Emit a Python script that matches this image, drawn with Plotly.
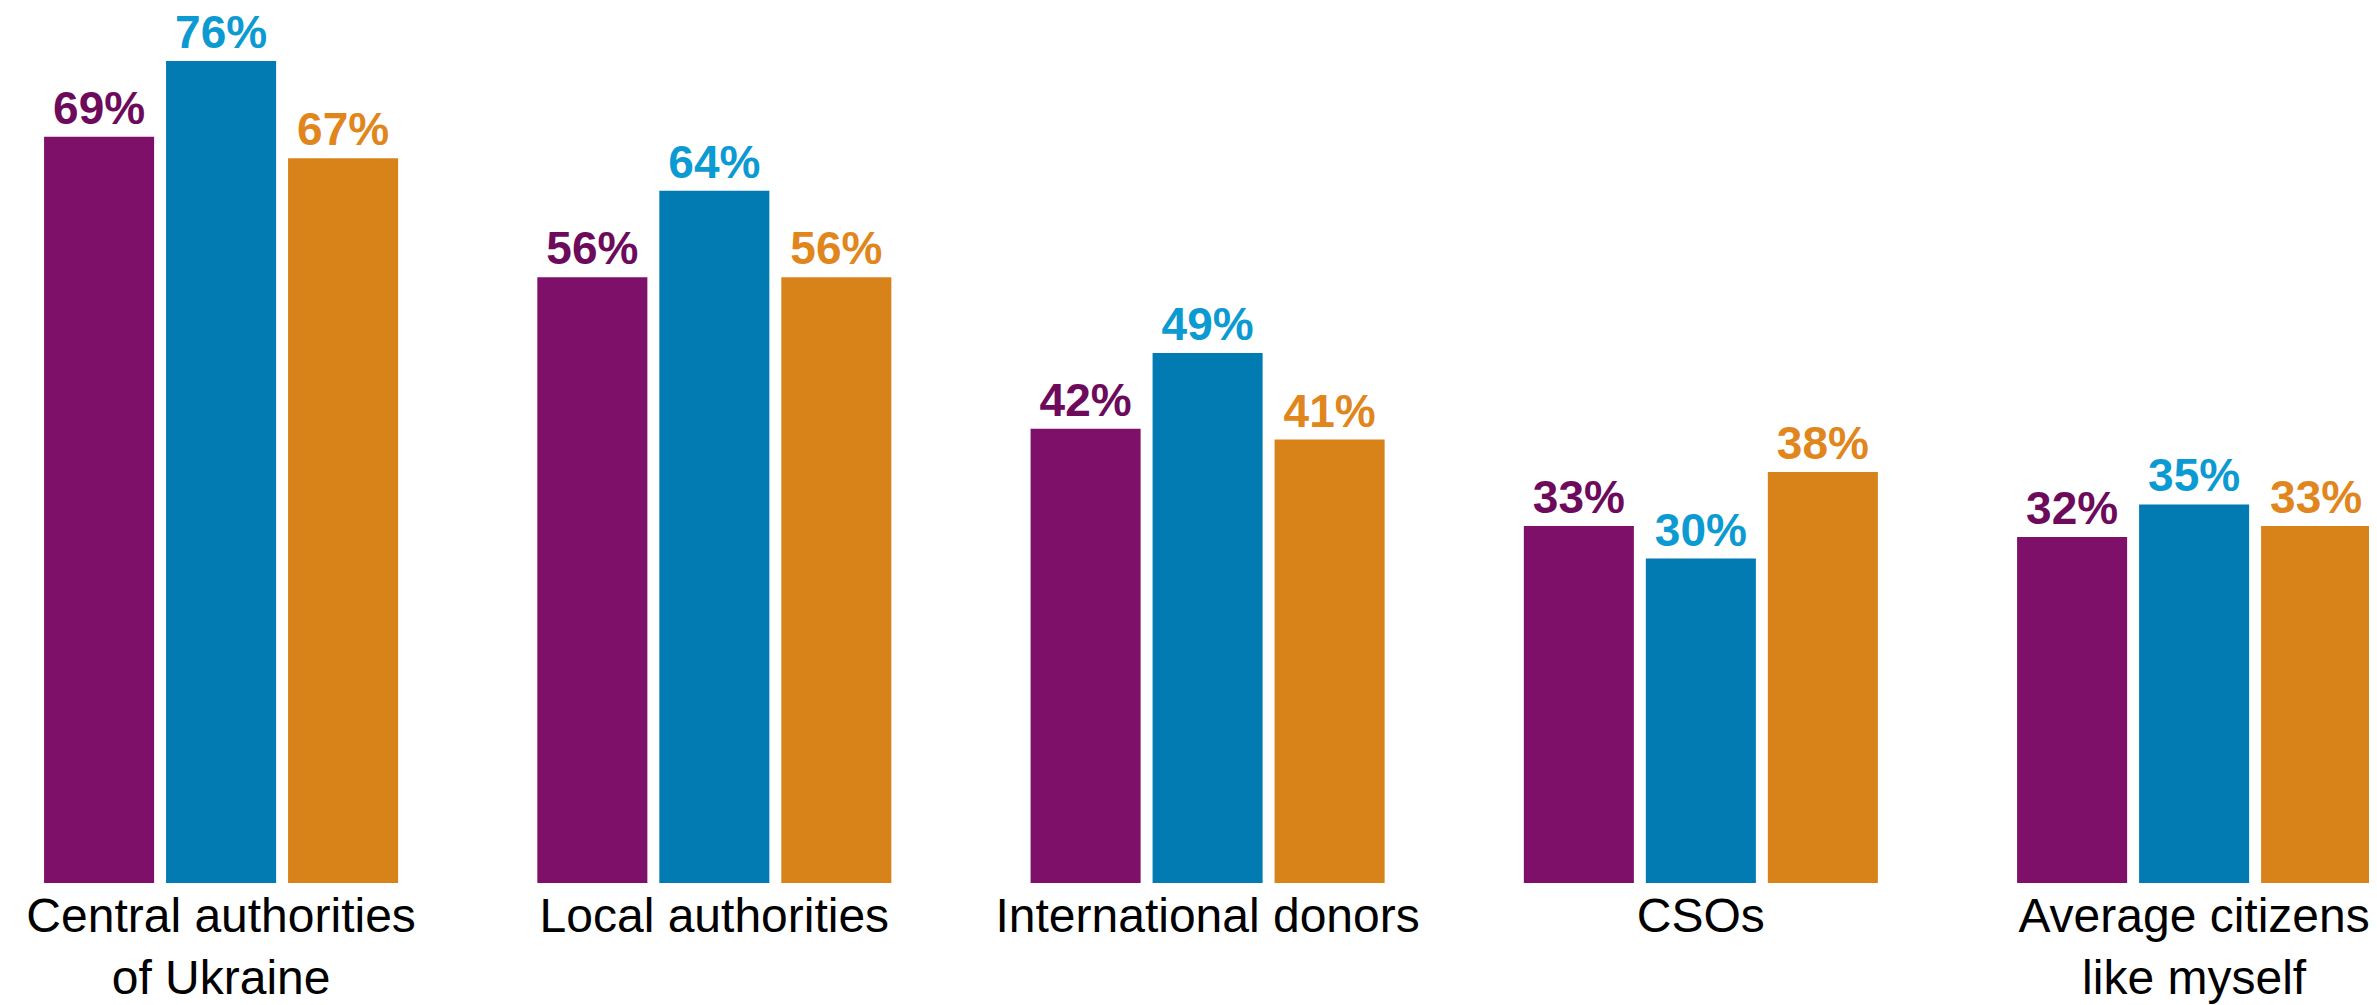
import plotly.graph_objects as go

categories = [
    "Central authorities<br>of Ukraine",
    "Local authorities",
    "International donors",
    "CSOs",
    "Average citizens<br>like myself",
]
series_a = [69, 56, 42, 33, 32]
series_b = [76, 64, 49, 30, 35]
series_c = [67, 56, 41, 38, 33]

bar_colors = ["#7e106a", "#027bb2", "#d7831a"]
label_colors = ["#6d0a5c", "#0b9ad2", "#e0861c"]

fig = go.Figure()
for i, vals in enumerate([series_a, series_b, series_c]):
    fig.add_trace(
        go.Bar(
            x=categories,
            y=vals,
            marker=dict(color=bar_colors[i], line=dict(width=0)),
            texttemplate="%{y}%",
            textposition="outside",
            cliponaxis=False,
            textfont=dict(family="Liberation Sans", size=46, color=label_colors[i], weight="bold"),
            showlegend=False,
        )
    )

fig.update_layout(
    width=2377,
    height=1005,
    barmode="group",
    bargap=0.258,
    bargroupgap=0.098,
    margin=dict(l=0, r=0, t=8, b=130),
    plot_bgcolor="white",
    paper_bgcolor="white",
    xaxis=dict(
        range=[-0.432, 4.387],
        showgrid=False,
        showline=False,
        ticks="",
        tickfont=dict(family="Liberation Sans", size=48, color="black"),
    ),
    yaxis=dict(range=[0, 80.16], visible=False),
)

fig.write_html("out.html")
